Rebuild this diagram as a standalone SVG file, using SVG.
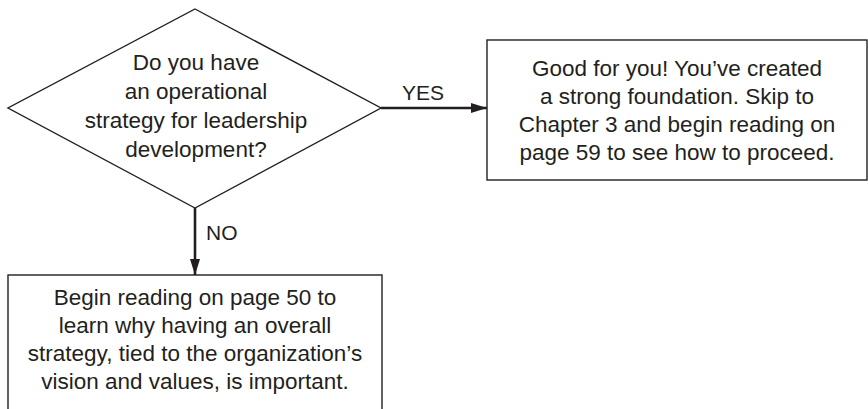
<svg xmlns="http://www.w3.org/2000/svg" width="868" height="409" viewBox="0 0 868 409">
  <style>
    .shape { fill: #ffffff; stroke: #231f20; stroke-width: 1.4; }
    .edge { fill: none; stroke: #231f20; stroke-width: 2.6; }
    .txt { font-family: "Liberation Sans", Arial, sans-serif; font-size: 22.5px; fill: #231f20; text-anchor: middle; }
    .lbl { font-family: "Liberation Sans", Arial, sans-serif; font-size: 21px; fill: #231f20; }
  </style>
  <defs>
    <marker id="arrow" viewBox="0 0 16 10" refX="16" refY="5" markerWidth="16" markerHeight="10" markerUnits="userSpaceOnUse" orient="auto">
      <path d="M0,0 L16,5 L0,10 Z" fill="#231f20"/>
    </marker>
  </defs>
  <rect width="868" height="409" fill="#ffffff"/>

  <!-- decision -->
  <g id="decision">
    <polygon class="shape" points="195,9 381,108 195,208 8,108"/>
    <text class="txt" x="196" y="70">Do you have</text>
    <text class="txt" x="196" y="99">an operational</text>
    <text class="txt" x="196" y="128">strategy for leadership</text>
    <text class="txt" x="196" y="157">development?</text>
  </g>

  <!-- outcome for YES -->
  <g id="yes-box">
    <rect class="shape" x="487" y="40" width="380" height="140"/>
    <text class="txt" x="677" y="76">Good for you! You’ve created</text>
    <text class="txt" x="677" y="104">a strong foundation. Skip to</text>
    <text class="txt" x="677" y="132">Chapter 3 and begin reading on</text>
    <text class="txt" x="677" y="160">page 59 to see how to proceed.</text>
  </g>

  <!-- outcome for NO -->
  <g id="no-box">
    <rect class="shape" x="8" y="275" width="374" height="160"/>
    <text class="txt" x="195" y="305">Begin reading on page 50 to</text>
    <text class="txt" x="195" y="333">learn why having an overall</text>
    <text class="txt" x="195" y="361">strategy, tied to the organization’s</text>
    <text class="txt" x="195" y="389">vision and values, is important.</text>
  </g>

  <!-- connectors -->
  <g id="connectors">
    <line class="edge" x1="381" y1="108" x2="487" y2="108" marker-end="url(#arrow)"/>
    <text class="lbl" x="402" y="100">YES</text>
    <line class="edge" x1="195" y1="208" x2="195" y2="275" marker-end="url(#arrow)"/>
    <text class="lbl" x="206" y="240">NO</text>
  </g>
</svg>
